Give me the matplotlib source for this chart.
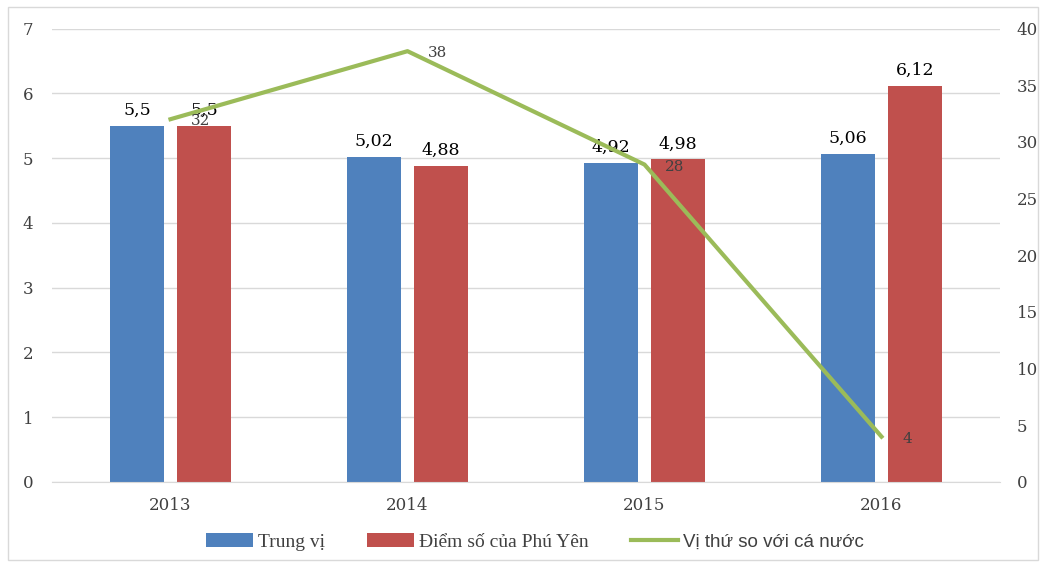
import matplotlib
matplotlib.use("Agg")
import matplotlib.pyplot as plt
from matplotlib.lines import Line2D
from matplotlib.patches import Patch, Rectangle
import numpy as np

years = ["2013", "2014", "2015", "2016"]
trung_vi = [5.5, 5.02, 4.92, 5.06]
phu_yen = [5.5, 4.88, 4.98, 6.12]
vi_thu = [32, 38, 28, 4]
left_ticks = [0, 1, 2, 3, 4, 5, 6, 7]
right_ticks = [0, 5, 10, 15, 20, 25, 30, 35, 40]

def fmt(v):
    s = ("%g" % v)
    return s.replace(".", ",")

plt.rcParams['font.family'] = ['DejaVu Serif']

fig = plt.figure(figsize=(10.43, 5.65), dpi=100)
fig.patches.append(Rectangle((8/1043, 5/565), 1030/1043, 553/565, transform=fig.transFigure,
                             fill=False, edgecolor="#d9d9d9", linewidth=1.0))
ax = fig.add_axes([52/1043, 1 - 482/565, 948/1043, (482 - 28.5)/565])
ax2 = ax.twinx()

x = np.arange(len(years))
w = 0.228
off = 0.1415
blue = "#4F81BD"
red = "#C0504D"
green = "#9BBB59"

b1 = ax.bar(x - off, trung_vi, w, color=blue, zorder=2)
b2 = ax.bar(x + off, phu_yen, w, color=red, zorder=2)
for rects, vals in ((b1, trung_vi), (b2, phu_yen)):
    for r, v in zip(rects, vals):
        ax.annotate(fmt(v), (r.get_x() + r.get_width() / 2, v), xytext=(0, 5),
                    textcoords="offset points", ha="center", va="bottom",
                    fontsize=12.5, color="black", zorder=5)

ax.set_xlim(-0.5, 3.5)
ax.set_ylim(0, 7)
ax.set_yticks(left_ticks)
ax.set_xticks(x)
ax.set_xticklabels(years)
ax.grid(axis="y", color="#d9d9d9", linewidth=1.0, zorder=0)
ax.set_axisbelow(True)
for s in ax.spines.values():
    s.set_visible(False)
for s in ax2.spines.values():
    s.set_visible(False)
ax.spines["bottom"].set_visible(True)
ax.spines["bottom"].set_color("#d9d9d9")
ax.tick_params(axis="both", length=0, labelsize=12, colors="#404040")
ax.tick_params(axis="y", pad=13.5)
ax.tick_params(axis="x", pad=11)

ax2.plot(x, vi_thu, color=green, linewidth=3, zorder=4)
ax2.set_ylim(0, 40)
ax2.set_yticks(right_ticks)
ax2.tick_params(axis="y", length=0, labelsize=12, colors="#404040", pad=12)
for xi, v in zip(x, vi_thu):
    ax2.annotate(str(v), (xi, v), xytext=(15, -1.5), textcoords="offset points",
                 ha="left", va="center", fontsize=11, color="#404040", zorder=6)

handles = [Patch(facecolor=blue, label="Trung vị"),
           Patch(facecolor=red, label="Điểm số của Phú Yên"),
           Line2D([0], [0], color=green, linewidth=3, label="Vị thứ so với cá nước")]
leg = fig.legend(handles=handles, loc="center", bbox_to_anchor=(535/1043, 1 - 542/565), ncol=3,
                 frameon=False, handlelength=2.4, handleheight=0.75,
                 columnspacing=2.2, handletextpad=0.25, labelcolor="#404040",
                 prop={'family': ['Liberation Serif'], 'size': 14})
leg.get_texts()[2].set_family(['Liberation Sans'])
leg.get_texts()[2].set_size(13.5)

fig.savefig("out.png", dpi=100)
